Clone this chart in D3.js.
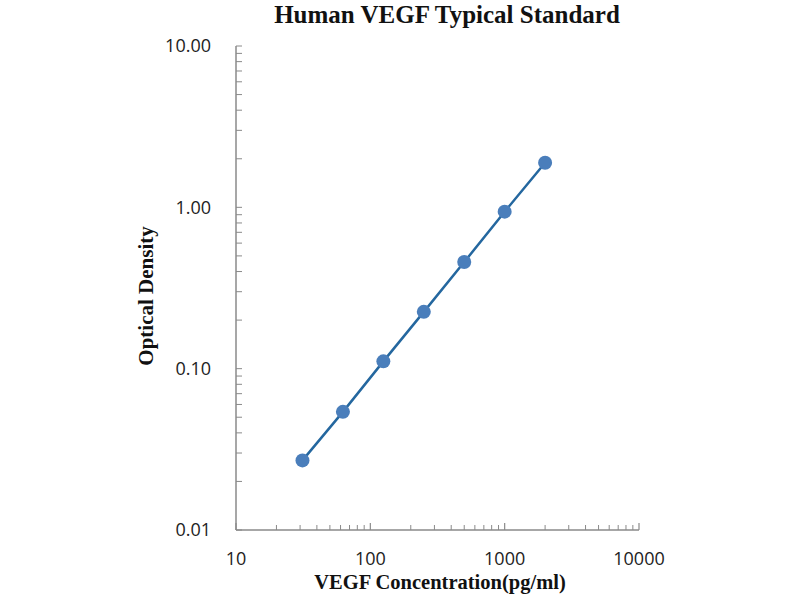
<!DOCTYPE html>
<html>
<head>
<meta charset="utf-8">
<script src="https://cdn.jsdelivr.net/npm/d3@7"></script>
<style>
  body { margin: 0; background: #fff; }
</style>
</head>
<body>
<div id="chart"></div>
<script>
    // standard curve values
    const concentration = [31.25, 62.5, 125, 250, 500, 1000, 2000];
    const density = [0.027, 0.054, 0.111, 0.225, 0.458, 0.94, 1.89];
    const xTickValues = [10, 100, 1000, 10000];
    const yTickValues = [0.01, 0.1, 1, 10];
    const title = "Human VEGF Typical Standard";
    const xTitle = "VEGF Concentration(pg/ml)";
    const yTitle = "Optical Density";

    function create_standard_curve(targetElementId){
        const margin = { top: 46, right: 161, bottom: 70, left: 236 };
        const width = 800 - margin.left - margin.right;
        const height = 600 - margin.top - margin.bottom;

        const data = concentration.map((c, i) => ({ c: c, od: density[i] }));

        const svg = d3.select(`#${targetElementId}`).append("svg")
            .attr("width", 800)
            .attr("height", 600)
            .append("g")
                .attr("transform", `translate(${margin.left},${margin.top})`);

        const x = d3.scaleLog()
            .domain([10, 10000])
            .range([0, width]);

        const y = d3.scaleLog()
            .domain([0.01, 10])
            .range([height, 0]);

        // minor ticks 2..9 in every decade
        const minor = (scale) => scale.ticks().filter(d => !scale.domain().includes(d) && Math.abs(Math.log10(d) % 1) > 1e-9);

        // x axis, ticks pointing up into the plot
        const xAxis = svg.append("g")
            .attr("transform", `translate(0,${height})`);
        xAxis.append("line")
            .attr("x1", 0).attr("x2", width)
            .attr("stroke", "#8a8a8a").attr("stroke-width", 1.5);
        xAxis.selectAll(".xmajor")
            .data(xTickValues)
            .enter()
            .append("line")
                .attr("x1", d => x(d)).attr("x2", d => x(d))
                .attr("y1", 0).attr("y2", -7)
                .attr("stroke", "#8a8a8a").attr("stroke-width", 1.2);
        xAxis.selectAll(".xminor")
            .data(minor(x))
            .enter()
            .append("line")
                .attr("x1", d => x(d)).attr("x2", d => x(d))
                .attr("y1", 0).attr("y2", -5)
                .attr("stroke", "#8a8a8a").attr("stroke-width", 1);
        xAxis.selectAll(".xlabel")
            .data(xTickValues)
            .enter()
            .append("text")
                .attr("x", d => x(d))
                .attr("y", 35)
                .attr("text-anchor", "middle")
                .style("font-family", "'Open Sans', sans-serif")
                .style("font-size", "18px")
                .attr("fill", "#222")
                .text(d => d);

        // y axis, ticks pointing right into the plot
        const yAxis = svg.append("g");
        yAxis.append("line")
            .attr("y1", 0).attr("y2", height)
            .attr("stroke", "#8a8a8a").attr("stroke-width", 1.5);
        yAxis.selectAll(".ytick")
            .data(yTickValues.concat(minor(y)))
            .enter()
            .append("line")
                .attr("x1", 0).attr("x2", 6)
                .attr("y1", d => y(d)).attr("y2", d => y(d))
                .attr("stroke", "#8a8a8a").attr("stroke-width", 1);
        yAxis.selectAll(".ylabel")
            .data(yTickValues)
            .enter()
            .append("text")
                .attr("x", -25)
                .attr("y", d => y(d))
                .attr("dy", "0.36em")
                .attr("text-anchor", "end")
                .style("font-family", "'Open Sans', sans-serif")
                .style("font-size", "18px")
                .attr("fill", "#222")
                .text(d => d3.format(".2f")(d));

        const line = d3.line()
            .x(d => x(d.c))
            .y(d => y(d.od));

        svg.append("path")
            .datum(data)
            .attr("fill", "none")
            .attr("stroke", "#24679f")
            .attr("stroke-width", 2.5)
            .attr("d", line);

        svg.selectAll("circle")
            .data(data)
            .enter()
            .append("circle")
            .attr("cx", d => x(d.c))
            .attr("cy", d => y(d.od))
            .attr("r", 7)
            .attr("fill", "#4a7ebb");

        // titles
        svg.append("text")
            .attr("x", 447 - margin.left)
            .attr("y", 23 - margin.top)
            .attr("text-anchor", "middle")
            .style("font-family", "'Liberation Serif', serif")
            .style("font-weight", "bold")
            .style("font-size", "25px")
            .attr("fill", "#111")
            .text(title);

        svg.append("text")
            .attr("x", 440 - margin.left)
            .attr("y", 589 - margin.top)
            .attr("text-anchor", "middle")
            .style("font-family", "'Liberation Serif', serif")
            .style("font-weight", "bold")
            .style("font-size", "20.5px")
            .attr("fill", "#111")
            .text(xTitle);

        svg.append("text")
            .attr("transform", `translate(${153 - margin.left},${296 - margin.top}) rotate(-90)`)
            .attr("text-anchor", "middle")
            .style("font-family", "'Liberation Serif', serif")
            .style("font-weight", "bold")
            .style("font-size", "21px")
            .attr("fill", "#111")
            .text(yTitle);
    }

    create_standard_curve("chart");
</script>
</body>
</html>
